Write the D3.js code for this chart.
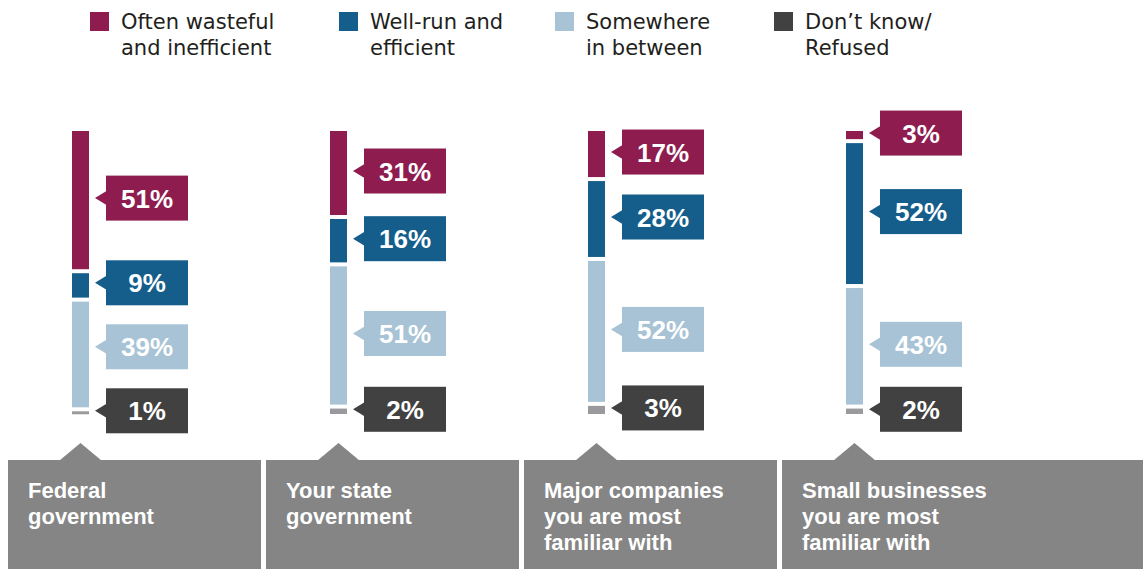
<!DOCTYPE html>
<html>
<head>
<meta charset="utf-8">
<script src="https://cdn.jsdelivr.net/npm/d3@7"></script>
<style>
  html, body { margin: 0; padding: 0; background: #fff; }
  svg { display: block; }
</style>
</head>
<body>
<div id="chart"></div>
<script>
// data
const categories = ["Federal government", "Your state government",
  "Major companies you are most familiar with", "Small businesses you are most familiar with"];
const categoryLines = [
  ["Federal", "government"],
  ["Your state", "government"],
  ["Major companies", "you are most", "familiar with"],
  ["Small businesses", "you are most", "familiar with"]
];
const seriesKeys = ["wasteful", "wellRun", "between", "dontKnow"];
const seriesLines = [
  ["Often wasteful", "and inefficient"],
  ["Well-run and", "efficient"],
  ["Somewhere", "in between"],
  ["Don\u2019t know/", "Refused"]
];
const wasteful = [51, 31, 17, 3];
const wellRun  = [9, 16, 28, 52];
const between  = [39, 51, 52, 43];
const dontKnow = [1, 2, 3, 2];

const barColors   = ["#8e1c4f", "#155d8b", "#a7c3d5", "#9a9a9e"];
const boxColors   = ["#8e1c4f", "#155d8b", "#a7c3d5", "#414141"];
const legendColors = ["#8e1c4f", "#155d8b", "#a7c3d5", "#414141"];

const W = 1143, H = 569;
const svg = d3.select('#chart').append('svg')
    .attr('width', W).attr('height', H);

const rows = categories.map((c, i) => ({
  cat: c, wasteful: wasteful[i], wellRun: wellRun[i], between: between[i], dontKnow: dontKnow[i]
}));
const stacked = d3.stack().keys(seriesKeys)(rows);

const x = d3.scaleBand().domain(categories).range([9, 9 + 258 * 4]);
const barOff = 63, barW = 17;
const barTop = 131, gap = 4;
const y = d3.scaleLinear().domain([0, 100]).range([0, 271]);

// legend
const legendX = [121, 370, 586, 805];
const legend = svg.append('g').attr('font-family', '"DejaVu Sans", sans-serif')
    .attr('font-size', 21).attr('fill', '#231f20');
seriesLines.forEach((lines, i) => {
  legend.append('rect')
      .attr('x', legendX[i] - 31).attr('y', 12)
      .attr('width', 19).attr('height', 19)
      .attr('fill', legendColors[i]);
  const t = legend.append('text').attr('x', legendX[i]).attr('y', 29);
  lines.forEach((l, j) => t.append('tspan').attr('x', legendX[i]).attr('dy', j ? 26 : 0).text(l));
});

// bars
const segTop = (d, k) => barTop + y(d[0]) + k * gap;
const segBot = (d, k) => barTop + y(d[1]) + k * gap;

stacked.forEach((s, k) => {
  svg.append('g').selectAll('rect').data(s).join('rect')
      .attr('x', d => x(d.data.cat) + barOff)
      .attr('y', d => segTop(d, k))
      .attr('width', barW)
      .attr('height', d => Math.max(3, segBot(d, k) - segTop(d, k)))
      .attr('fill', barColors[k]);
});

// labels with simple collision push-up
const boxW = 82, boxH = 45, minSpace = 64;
categories.forEach((c, i) => {
  const centers = stacked.map((s, k) => {
    const d = s[i];
    return (segTop(d, k) + Math.max(segTop(d, k) + 3, segBot(d, k))) / 2 - 2;
  });
  for (let k = centers.length - 2; k >= 0; k--) {
    centers[k] = Math.min(centers[k], centers[k + 1] - minSpace);
  }
  const bx = x(c) + barOff + barW + 17;
  const g = svg.append('g');
  stacked.forEach((s, k) => {
    const cy = centers[k];
    g.append('rect')
        .attr('x', bx).attr('y', cy - boxH / 2)
        .attr('width', boxW).attr('height', boxH)
        .attr('fill', boxColors[k]);
    g.append('path')
        .attr('d', `M${bx + 0.5},${cy - 7}L${bx - 11},${cy}L${bx + 0.5},${cy + 7}Z`)
        .attr('fill', boxColors[k]);
    g.append('text')
        .attr('x', bx + boxW / 2).attr('y', cy + 9.5)
        .attr('text-anchor', 'middle')
        .attr('font-family', '"Liberation Sans", Arial, sans-serif')
        .attr('font-weight', 'bold').attr('font-size', 26)
        .attr('fill', '#fff')
        .text(s[i].data[seriesKeys[k]] + '%');
  });
});

// category panels
const panelTop = 460;
categories.forEach((c, i) => {
  const px = x(c) - 1;
  const pw = i === categories.length - 1 ? W - px : x.step() - 5;
  const cx = x(c) + barOff + barW / 2;
  const g = svg.append('g');
  g.append('rect').attr('x', px).attr('y', panelTop)
      .attr('width', pw).attr('height', H - panelTop)
      .attr('fill', '#858585');
  g.append('path')
      .attr('d', `M${cx - 21},${panelTop + 0.5}L${cx},${panelTop - 17}L${cx + 21},${panelTop + 0.5}Z`)
      .attr('fill', '#858585');
  const t = g.append('text')
      .attr('font-family', '"Liberation Sans", Arial, sans-serif')
      .attr('font-weight', 'bold').attr('font-size', 22)
      .attr('fill', '#fff').attr('y', 498);
  categoryLines[i].forEach((l, j) =>
    t.append('tspan').attr('x', px + 20).attr('dy', j ? 26 : 0).text(l));
});
</script>
</body>
</html>
